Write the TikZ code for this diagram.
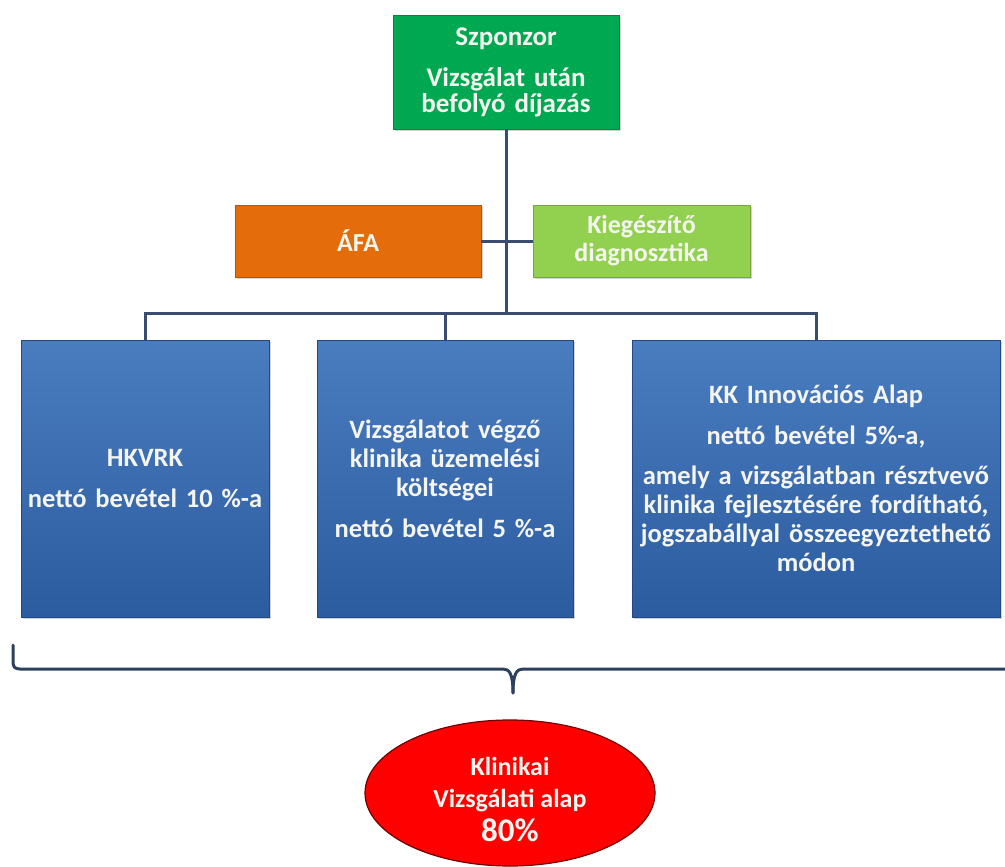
\documentclass[tikz,border=0pt]{standalone}
\usepackage{fontspec}
\setmainfont{Carlito}
\usetikzlibrary{shadows,shapes.geometric}
\definecolor{szgreen}{RGB}{0,168,82}
\definecolor{afaorange}{RGB}{228,108,10}
\definecolor{kgreen}{RGB}{146,208,80}
\definecolor{btop}{RGB}{74,124,192}
\definecolor{bbot}{RGB}{44,92,160}
\definecolor{conn}{RGB}{58,77,110}
\definecolor{bracec}{RGB}{45,65,95}
\definecolor{txt}{RGB}{245,245,240}
\tikzset{
  boxbase/.style={rectangle, inner sep=2pt, align=center, text=txt,
    drop shadow={shadow xshift=2pt, shadow yshift=-2pt, opacity=0.35}},
  szbox/.style={boxbase, fill=szgreen, draw=szgreen!80!black, line width=0.6pt},
  afabox/.style={boxbase, fill=afaorange, draw=afaorange!80!black, line width=0.6pt},
  kbox/.style={boxbase, fill=kgreen, draw=kgreen!80!black, line width=0.6pt},
  bluebox/.style={boxbase, top color=btop, bottom color=bbot, draw=bbot!80!black, line width=0.6pt,
    font=\bfseries\fontsize{26.5}{29}\selectfont},
  link/.style={draw=conn, line width=3pt},
  bracestyle/.style={draw=bracec, line width=3pt, line cap=round, line join=round},
  fund/.style={ellipse, fill=red, draw=red!45!black, line width=1.2pt, inner sep=0pt},
  fundtext/.style={text=txt, align=center, inner sep=0pt, font=\bfseries\fontsize{26}{32}\selectfont}
}
\begin{document}
\begin{tikzpicture}[x=1pt,y=-1pt]
\useasboundingbox (0,0) rectangle (1005,867);
\fill[white] (0,0) rectangle (1005,867);
% top sponsor box
\node[szbox, minimum width=226pt, minimum height=114pt, text width=222pt,
  font=\bfseries\fontsize{27}{25.5}\selectfont] (sz) at (506,72)
  {Szponzor\\[16pt]Vizsgálat után\\befolyó díjazás};
% side boxes
\node[afabox, minimum width=246pt, minimum height=72pt, text width=240pt,
  font=\bfseries\fontsize{26}{28}\selectfont] (afa) at (358,241) {ÁFA};
\node[kbox, minimum width=217pt, minimum height=72pt, text width=212pt,
  font=\bfseries\fontsize{26}{28}\selectfont] (kieg) at (641.5,241) {Kiegészítő\\diagnosztika};
% blue boxes
\node[bluebox, minimum width=248pt, minimum height=277pt, text width=244pt] (b1) at (145,478.5)
  {HKVRK\\[12pt]nettó bevétel 10 \%-a};
\node[bluebox, minimum width=256pt, minimum height=277pt, text width=252pt] (b2) at (445,478.5)
  {Vizsgálatot végző\\klinika üzemelési\\költségei\\[12pt]nettó bevétel 5 \%-a};
\node[bluebox, minimum width=368pt, minimum height=277pt, text width=364pt] (b3) at (816,478.5)
  {KK Innovációs Alap\\[11.5pt]nettó bevétel 5\%-a,\\[11.5pt]amely a vizsgálatban résztvevő\\klinika fejlesztésére fordítható,\\jogszabállyal összeegyeztethető\\módon};
% connectors
\coordinate (bus) at (506,313);
\draw[link] (sz.south) -- (bus);
\draw[link] (afa.east) -- (kieg.west);
\draw[link] (b1.north) |- (bus) -| (b3.north);
\draw[link] (b2.north) -- (b2.north |- bus);
% brace
\coordinate (brL) at (13,645);
\coordinate (brM) at (513,693);
\coordinate (brR) at (1006,669);
\draw[bracestyle] (brL) -- (13,662) .. controls (13,667) and (15,669) .. (20,669)
  -- (503,669) .. controls (509,669) and (513,673) .. (brM);
\draw[bracestyle] (brM) .. controls (513,673) and (517,669) .. (523,669) -- (brR);
% fund ellipse
\node[fund, minimum width=290pt, minimum height=146pt] (fund) at (510,793) {};
\node[fundtext] (fundtxt) at ([yshift=-7pt]fund.center)
  {Klinikai\\Vizsgálati alap\\[2pt]{\fontsize{33}{36}\selectfont 80\%}};
\end{tikzpicture}
\end{document}
